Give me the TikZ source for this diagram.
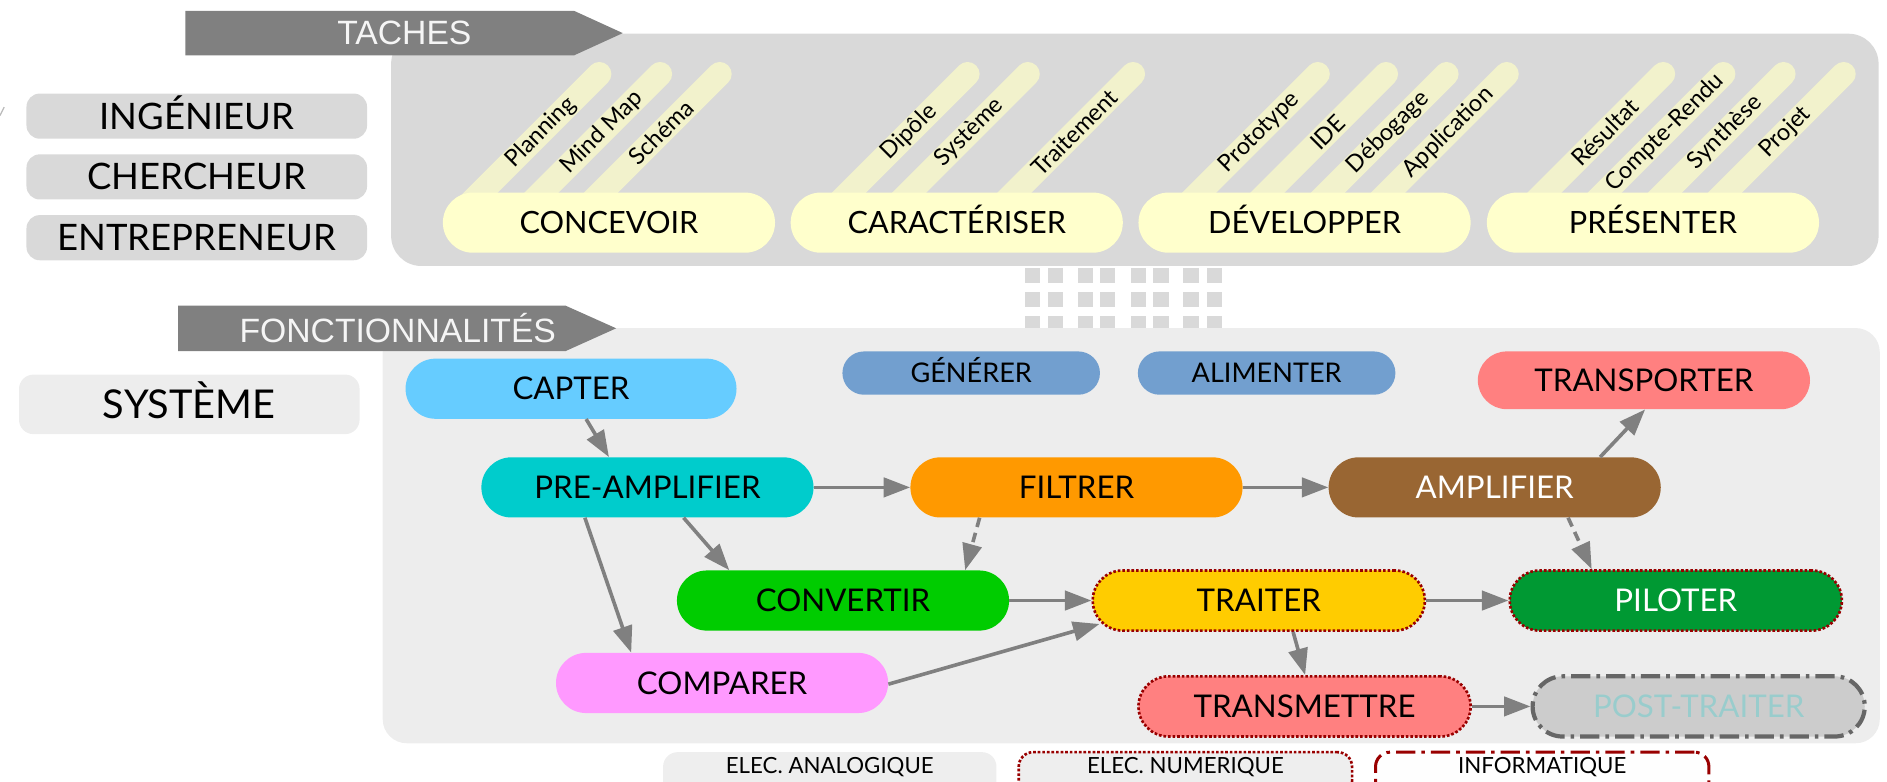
\documentclass[tikz,border=0pt]{standalone}
\usepackage{fontspec}
\setmainfont{Lato}
\newfontfamily\banfont{Liberation Sans}
\usetikzlibrary{arrows.meta}
\definecolor{panA}{HTML}{D9D9D9}
\definecolor{panB}{HTML}{EDEDED}
\definecolor{banc}{HTML}{808080}
\definecolor{yel}{HTML}{FFFFCC}
\definecolor{pillc}{HTML}{F2F2CC}
\definecolor{arrc}{HTML}{808080}
\definecolor{dred}{HTML}{990000}
\definecolor{cCapter}{HTML}{66CCFF}
\definecolor{cGen}{HTML}{729FCF}
\definecolor{cTransp}{HTML}{FF8080}
\definecolor{cPre}{HTML}{00CCCC}
\definecolor{cFil}{HTML}{FF9900}
\definecolor{cAmp}{HTML}{996633}
\definecolor{cConv}{HTML}{00CC00}
\definecolor{cTrait}{HTML}{FFCC00}
\definecolor{cPil}{HTML}{009933}
\definecolor{cComp}{HTML}{FF99FF}
\definecolor{cPost}{HTML}{CCCCCC}
\definecolor{cPostT}{HTML}{99CCCC}
\definecolor{cPostB}{HTML}{666666}
\definecolor{legc}{HTML}{EEEEEE}
\begin{document}
\begin{tikzpicture}[x=1pt,y=-1pt,
  banner/.style={fill=banc},
  bantext/.style={inner sep=0pt, text=white!96!black, font=\banfont\fontsize{28}{31}\selectfont},
  role/.style={rectangle, rounded corners=11pt, fill=panA, minimum width=283pt, minimum height=37.5pt, inner sep=0pt, font=\fontsize{30.3}{33}\selectfont, text height=21.7pt, text depth=0pt},
  sysbox/.style={rectangle, rounded corners=12pt, fill=panB, minimum width=283pt, minimum height=49.5pt, inner sep=0pt, font=\fontsize{33}{36}\selectfont, text height=23.6pt, text depth=0pt},
  task/.style={rectangle, rounded corners=25pt, fill=yel, minimum width=276pt, minimum height=50pt, inner sep=0pt, font=\fontsize{25.5}{28}\selectfont, text height=18.3pt, text depth=0pt},
  pillline/.style={draw=pillc, line width=20pt, line cap=round},
  pilllab/.style={inner sep=0pt, rotate=45, font=\fontsize{19.5}{22}\selectfont},
  fn/.style={rectangle, rounded corners=25pt, minimum width=276pt, minimum height=50pt, inner sep=0pt, font=\fontsize{26}{29}\selectfont, text height=18.6pt, text depth=0pt},
  fnsmall/.style={rectangle, rounded corners=18pt, fill=cGen, minimum width=214pt, minimum height=36pt, inner sep=0pt, font=\fontsize{22.5}{25}\selectfont, text height=16.1pt, text depth=0pt},
  dotb/.style={draw=dred, line width=2.2pt, dash pattern=on 2.2pt off 1.6pt},
  dashdotb/.style={line width=3.5pt, dash pattern=on 16pt off 5pt on 3pt off 5pt},
  leg/.style={rectangle, rounded corners=12pt, fill=legc, minimum width=277pt, minimum height=36pt, inner sep=0pt, font=\fontsize{18.5}{21}\selectfont, text height=13.25pt, text depth=14pt},
  arrw/.style={draw=arrc, line width=3pt, -{Triangle[length=22pt,width=16pt]}},
  arrd/.style={arrw, dash pattern=on 8pt off 5pt},
  sq/.style={fill=panA}]
\useasboundingbox (0,0) rectangle (1568,649);
\clip (0,0) rectangle (1568,649);

% stray mark at left edge
\draw[draw=gray!55, line width=1pt] (0,96) -- (3.5,89);

% panels
\fill[panA, rounded corners=25pt] (325,28) rectangle (1561,221);
\foreach \sx in {851.8,870.6,895.5,913.8,940,958.4,983.3,1002.7}{
  \foreach \sy in {223,243,262.6}{
    \fill[sq] (\sx,\sy) rectangle ++(12.6,12.5);
  }
}
\fill[panB, rounded corners=20pt] (318,272.6) rectangle (1562,617.6);

% banners
\fill[banner] (154,9) -- (477,9) -- (517.5,27.5) -- (477,46) -- (154,46) -- cycle;
\node[bantext] (taches) at (336,27.5) {TACHES};
\fill[banner] (148,254) -- (470,254) -- (512,272.8) -- (470,291.7) -- (148,291.7) -- cycle;
\node[bantext] (fonct) at (330.5,273) {FONCTIONNALITÉS};

% roles
\node[role] (ing) at (163.5,96.5) {INGÉNIEUR};
\node[role] (cher) at (163.5,147) {CHERCHEUR};
\node[role] (entr) at (163.5,197.5) {ENTREPRENEUR};
\node[sysbox] (sys) at (157.3,336) {SYSTÈME};

% pills
\foreach \xt/\lab [count=\i] in {498/Planning, 548.5/Mind Map, 598/Schéma, 804/Dipôle, 854/Système, 941.5/Traitement, 1095/Prototype, 1151.7/IDE, 1202/Débogage, 1252/Application, 1382/Résultat, 1432/Compte-Rendu, 1482/Synthèse, 1532/Projet}{
  \draw[pillline] (\xt-113,174.5) -- (\xt,61.5);
  \node[pilllab] (pl\i) at (\xt-48.5,110) {\lab};
}

% tasks
\node[task] (concevoir) at (506,185) {CONCEVOIR};
\node[task] (caract) at (795,185) {CARACTÉRISER};
\node[task] (develop) at (1084,185) {DÉVELOPPER};
\node[task] (present) at (1373.5,185) {PRÉSENTER};

% functions
\node[fn, fill=cCapter, minimum width=275pt] (capter) at (474.5,323) {CAPTER};
\node[fnsmall] (generer) at (807,310) {GÉNÉRER};
\node[fnsmall] (alimenter) at (1052.5,310) {ALIMENTER};
\node[fn, fill=cTransp, minimum height=48pt, rounded corners=24pt] (transporter) at (1366,316) {TRANSPORTER};
\node[fn, fill=cPre] (preamp) at (538,405) {PRE-AMPLIFIER};
\node[fn, fill=cFil] (filtrer) at (894.5,405) {FILTRER};
\node[fn, fill=cAmp, text=white] (amplifier) at (1242,405) {AMPLIFIER};
\node[fn, fill=cConv] (convertir) at (700.5,499) {CONVERTIR};
\node[fn, fill=cTrait, dotb] (traiter) at (1046,499) {TRAITER};
\node[fn, fill=cPil, text=white, dotb] (piloter) at (1392.5,499) {PILOTER};
\node[fn, fill=cComp] (comparer) at (600,567.5) {COMPARER};
\node[fn, fill=cTransp, dotb] (transmettre) at (1084,587) {TRANSMETTRE};
\node[fn, fill=cPost, text=cPostT, draw=cPostB, dashdotb] (post) at (1411.5,587) {POST-TRAITER};

% arrows
\draw[arrw] ([xshift=12.5pt]capter.south) -- ([xshift=-32pt]preamp.north);
\draw[arrw] (preamp.east) -- (filtrer.west);
\draw[arrw] ([xshift=30pt]preamp.south) -- ([xshift=-94.5pt]convertir.north);
\draw[arrw] ([xshift=-52pt]preamp.south) -- ([xshift=-75.5pt]comparer.north);
\draw[arrd] ([xshift=-80.5pt]filtrer.south) -- ([xshift=101.5pt]convertir.north);
\draw[arrw] (filtrer.east) -- (amplifier.west);
\draw[arrw] ([xshift=87.6pt]amplifier.north) -- ([xshift=1pt]transporter.south);
\draw[arrd] ([xshift=61pt]amplifier.south) -- ([xshift=-69.9pt]piloter.north);
\draw[arrw] (convertir.east) -- (traiter.west);
\draw[arrw] ([yshift=-1pt]comparer.east) -- ([xshift=6.7pt,yshift=-19.5pt]traiter.west);
\draw[arrw] (traiter.east) -- (piloter.west);
\draw[arrw] ([xshift=28.5pt]traiter.south) -- ([xshift=0.5pt]transmettre.north);
\draw[arrw] (transmettre.east) -- (post.west);

% legend
\node[leg] (lana) at (689.5,643) {ELEC. ANALOGIQUE};
\node[leg, dotb] (lnum) at (985,643) {ELEC. NUMERIQUE};
\node[leg, fill=white!95!legc, draw=dred, line width=2.5pt, dash pattern=on 16pt off 5pt on 3pt off 5pt] (linfo) at (1281.5,643) {INFORMATIQUE};
\end{tikzpicture}
\end{document}
